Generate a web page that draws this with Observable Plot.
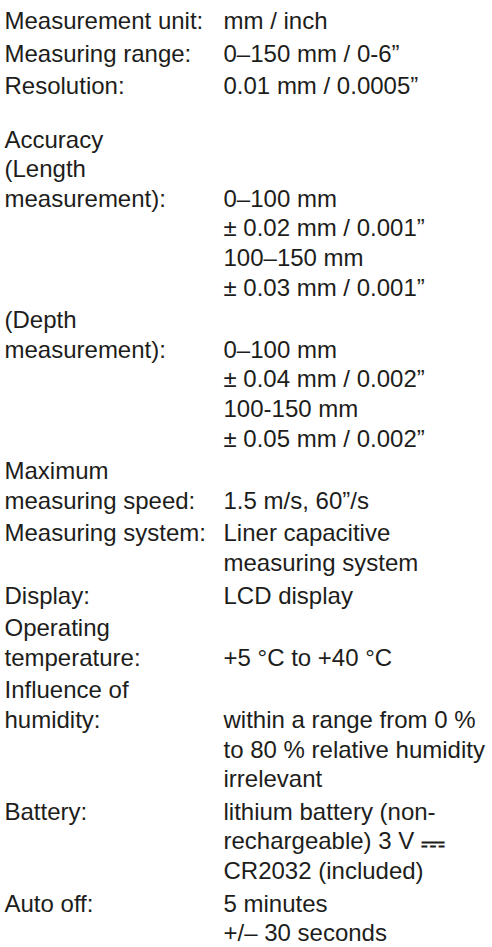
<!DOCTYPE html>
<html>
<head>
<meta charset="utf-8">
<script src="https://cdn.jsdelivr.net/npm/d3@7"></script>
<script src="https://cdn.jsdelivr.net/npm/@observablehq/plot@0.6"></script>
<style>
  html, body { margin: 0; padding: 0; background: #ffffff; }
  #chart svg { display: block; }
</style>
</head>
<body>
<div id="chart"></div>
<script>
// Left column labels and the line (row) each one sits on
const labelText = [
  "Measurement unit:", "Measuring range:", "Resolution:",
  "Accuracy", "(Length", "measurement):",
  "(Depth", "measurement):",
  "Maximum", "measuring speed:",
  "Measuring system:",
  "Display:",
  "Operating", "temperature:",
  "Influence of", "humidity:",
  "Battery:",
  "Auto off:"
];
const labelRow = [0, 1, 2, 3, 4, 5, 9, 10, 14, 15, 16, 18, 19, 20, 21, 22, 25, 28];

// Right column values and their rows
const valueText = [
  "mm / inch", "0–150 mm / 0-6”", "0.01 mm / 0.0005”",
  "0–100 mm", "± 0.02 mm / 0.001”", "100–150 mm", "± 0.03 mm / 0.001”",
  "0–100 mm", "± 0.04 mm / 0.002”", "100-150 mm", "± 0.05 mm / 0.002”",
  "1.5 m/s, 60”/s",
  "Liner capacitive", "measuring system",
  "LCD display",
  "+5 °C to +40 °C",
  "within a range from 0 %", "to 80 % relative humidity", "irrelevant",
  "lithium battery (non-", "rechargeable) 3 V \u2393", "CR2032 (included)",
  "5 minutes", "+/– 30 seconds"
];
const valueRow = [0, 1, 2, 5, 6, 7, 8, 10, 11, 12, 13, 15, 16, 17, 18, 20, 22, 23, 24, 25, 26, 27, 28, 29];

// Rows where a new paragraph (spec entry) begins
const paragraphStart = [0, 1, 2, 3, 9, 14, 16, 18, 19, 21, 25, 28];

// Layout (pixel units of the page)
const W = 492, H = 947;
const firstBaseline = 28.5, lineStep = 29.6, paraGap = 3, sectionGap = 20.7;
const labelX = 4, valueX = 223;

function baseline(row) {
  const p = paragraphStart.filter(s => s <= row).length - 1;
  return firstBaseline + row * lineStep + p * paraGap + (p >= 3 ? sectionGap : 0);
}

const labels = labelText.map((t, i) => ({text: t, x: labelX, y: baseline(labelRow[i])}));
const values = valueText.map((t, i) => ({text: t, x: valueX, y: baseline(valueRow[i])}));

const font = "'Liberation Sans', Arial, Helvetica, sans-serif";
const size = 24;
const ink = "#1d1d1b";
const plot = Plot.plot({
  width: W,
  height: H,
  margin: 0,
  x: {domain: [0, W], range: [0, W], axis: null},
  y: {domain: [0, H], range: [0, H], axis: null},
  style: {background: "#ffffff", fontFamily: font},
  marks: [
    Plot.text(labels, {x: "x", y: "y", text: "text", textAnchor: "start", lineAnchor: "bottom",
      fontSize: size, fill: ink, fontFamily: font}),
    Plot.text(values, {x: "x", y: "y", text: "text", textAnchor: "start", lineAnchor: "bottom",
      fontSize: size, fill: ink, fontFamily: font})
  ]
});

// Draw the DC symbol larger and bolder, sitting low as in the original
plot.querySelectorAll("text").forEach(t => {
  const s = t.textContent;
  const k = s.indexOf("\u2393");
  if (k >= 0) {
    t.textContent = s.slice(0, k);
    const ts = document.createElementNS("http://www.w3.org/2000/svg", "tspan");
    ts.textContent = "\u2393";
    ts.setAttribute("font-family", "'DejaVu Sans', sans-serif");
    ts.setAttribute("font-size", "30");
    ts.setAttribute("font-weight", "bold");
    ts.setAttribute("dy", "4");
    t.appendChild(ts);
  }
});
document.getElementById("chart").appendChild(plot);
</script>
</body>
</html>
